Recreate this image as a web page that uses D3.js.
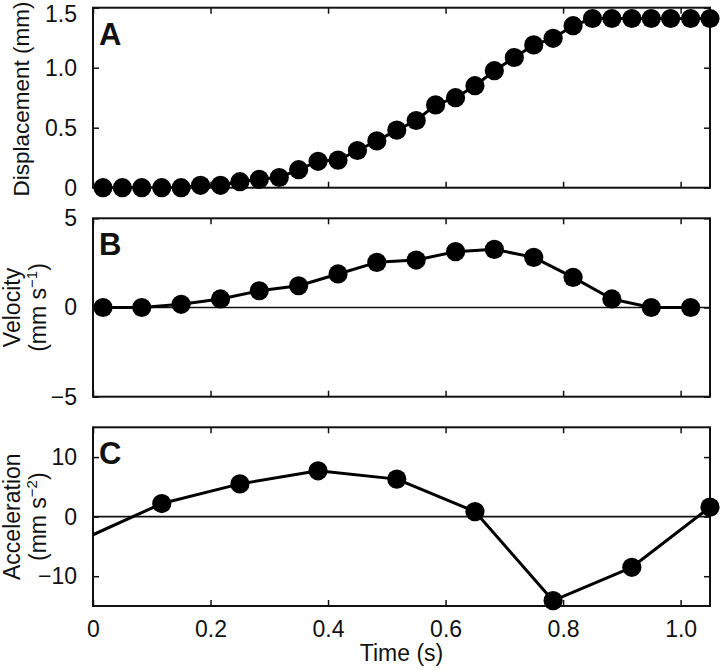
<!DOCTYPE html>
<html>
<head>
<meta charset="utf-8">
<script src="https://cdn.jsdelivr.net/npm/d3@7"></script>
<style>
html,body{margin:0;padding:0;background:#fff;}
svg{display:block;}
text{font-family:"Liberation Sans",Arial,Helvetica,sans-serif;fill:#111;}
</style>
</head>
<body>
<svg id="chart" width="720" height="670"></svg>
<script>
// ---- data ----
const timeA = [0.017,0.050,0.083,0.117,0.150,0.183,0.217,0.250,0.283,0.317,0.350,0.383,0.417,0.450,0.483,0.517,0.550,0.583,0.617,0.650,0.683,0.717,0.750,0.783,0.817,0.850,0.883,0.917,0.950,0.983,1.017,1.050];
const displacement = [0,0,0,0,0,0.02,0.02,0.05,0.07,0.085,0.15,0.22,0.23,0.31,0.39,0.48,0.56,0.69,0.75,0.85,0.975,1.085,1.19,1.245,1.35,1.41,1.41,1.41,1.41,1.41,1.41,1.41];
const timeB = [0.017,0.083,0.150,0.217,0.283,0.350,0.417,0.483,0.550,0.617,0.683,0.750,0.817,0.883,0.950,1.017];
const velocity = [0,0,0.18,0.48,0.94,1.22,1.88,2.53,2.66,3.13,3.26,2.81,1.69,0.48,0,0];
const timeC = [-0.017,0.117,0.250,0.383,0.517,0.650,0.783,0.917,1.050];
const acceleration = [-3.8,2.2,5.5,7.7,6.3,0.85,-14.1,-8.5,1.6];
const xTicks = [0,0.2,0.4,0.6,0.8,1.0];
const xTickLabels = ["0","0.2","0.4","0.6","0.8","1.0"];
const yTicksA = [0,0.5,1.0,1.5];
const yTickLabelsA = ["0","0.5","1.0","1.5"];
const yTicksB = [-5,0,5];
const yTickLabelsB = ["\u22125","0","5"];
const yTicksC = [-10,0,10];
const yTickLabelsC = ["\u221210","0","10"];

// ---- layout ----
const svg = d3.select("#chart");
const X0 = 93, X1 = 710;
const x = d3.scaleLinear().domain([0,1.05]).range([X0,X1]);
const FS = 23;

const panels = [
  {id:"A", top:7.7, bottom:187.7, domain:[0,1.5], t:timeA, v:displacement, ticks:yTicksA, labels:yTickLabelsA, zero:false},
  {id:"B", top:218.3, bottom:396.7, domain:[-5,5], t:timeB, v:velocity, ticks:yTicksB, labels:yTickLabelsB, zero:true},
  {id:"C", top:427.3, bottom:606, domain:[-15,15], t:timeC, v:acceleration, ticks:yTicksC, labels:yTickLabelsC, zero:true}
];

panels.forEach((p,pi) => {
  const y = d3.scaleLinear().domain(p.domain).range([p.bottom,p.top]);
  const g = svg.append("g");
  const clipId = "clip"+p.id;
  svg.append("defs").append("clipPath").attr("id",clipId)
    .append("rect").attr("x",X0).attr("y",p.top).attr("width",X1-X0).attr("height",p.bottom-p.top);

  if (p.zero) {
    g.append("line").attr("x1",X0).attr("x2",X1).attr("y1",y(0)).attr("y2",y(0))
      .attr("stroke","#111").attr("stroke-width",1.7);
  }

  const tk = 6;
  const axB = d3.axisBottom(x).tickValues(xTicks).tickSize(-tk).tickFormat((d,i)=>xTickLabels[i]).tickPadding(15);
  const axT = d3.axisTop(x).tickValues(xTicks).tickSize(-tk).tickFormat("");
  const axL = d3.axisLeft(y).tickValues(p.ticks).tickSize(-tk).tickFormat((d,i)=>p.labels[i]).tickPadding(16);
  const axR = d3.axisRight(y).tickValues(p.ticks).tickSize(-tk).tickFormat("");
  const gb = g.append("g").attr("transform",`translate(0,${p.bottom})`).call(axB);
  const gt = g.append("g").attr("transform",`translate(0,${p.top})`).call(axT);
  const gl = g.append("g").attr("transform",`translate(${X0},0)`).call(axL);
  const gr = g.append("g").attr("transform",`translate(${X1},0)`).call(axR);
  [gb,gt,gl,gr].forEach(a => {
    a.select(".domain").remove();
    a.selectAll(".tick line").attr("stroke","#111").attr("stroke-width",1.5);
    a.selectAll("text").style("font-size",FS+"px").attr("fill","#111")
      .style("font-family",'"Liberation Sans",Arial,Helvetica,sans-serif');
  });
  if (pi < 2) gb.selectAll("text").remove();
  gb.selectAll("text").attr("dy","0.71em");
  // keep the topmost label of panel A inside the page
  if (pi === 0) gl.selectAll(".tick text").filter(d => d === 1.5).attr("dy","0.6em");

  g.append("rect").attr("x",X0).attr("y",p.top).attr("width",X1-X0).attr("height",p.bottom-p.top)
    .attr("fill","none").attr("stroke","#111").attr("stroke-width",2);

  const pts = p.t.map((t,i)=>({t:t,v:p.v[i]}));
  g.append("path").datum(pts).attr("clip-path",`url(#${clipId})`)
    .attr("fill","none").attr("stroke","#000").attr("stroke-width",3).attr("stroke-linejoin","round")
    .attr("d",d3.line().x(d=>x(d.t)).y(d=>y(d.v)));
  g.selectAll("circle.pt").data(pts.filter(d=>d.t>=0)).enter().append("circle")
    .attr("cx",d=>x(d.t)).attr("cy",d=>y(d.v)).attr("r",9.6).attr("fill","#000");

  g.append("text").attr("x",99).attr("y",p.top+37).text(p.id)
    .style("font-size","31px").style("font-weight","bold").attr("fill","#000");
});

function rotTitle(xb, yc, fs, build) {
  const t = svg.append("text").attr("transform",`translate(${xb},${yc}) rotate(-90)`)
    .attr("text-anchor","middle").style("font-size",fs+"px");
  build(t);
}
rotTitle(29, 99, 22.5, t => t.text("Displacement (mm)"));
rotTitle(20, 307.5, FS, t => t.text("Velocity"));
rotTitle(46, 307.5, FS, t => {
  t.append("tspan").text("(mm s");
  t.append("tspan").text("\u22121").attr("dy",-9).style("font-size","15px");
  t.append("tspan").text(")").attr("dy",9);
});
rotTitle(20, 516.7, FS, t => t.text("Acceleration"));
rotTitle(46, 516.7, FS, t => {
  t.append("tspan").text("(mm s");
  t.append("tspan").text("\u22122").attr("dy",-9).style("font-size","15px");
  t.append("tspan").text(")").attr("dy",9);
});
svg.append("text").attr("x",(X0+X1)/2).attr("y",661).attr("text-anchor","middle")
  .style("font-size",FS+"px").text("Time (s)");
</script>
</body>
</html>
